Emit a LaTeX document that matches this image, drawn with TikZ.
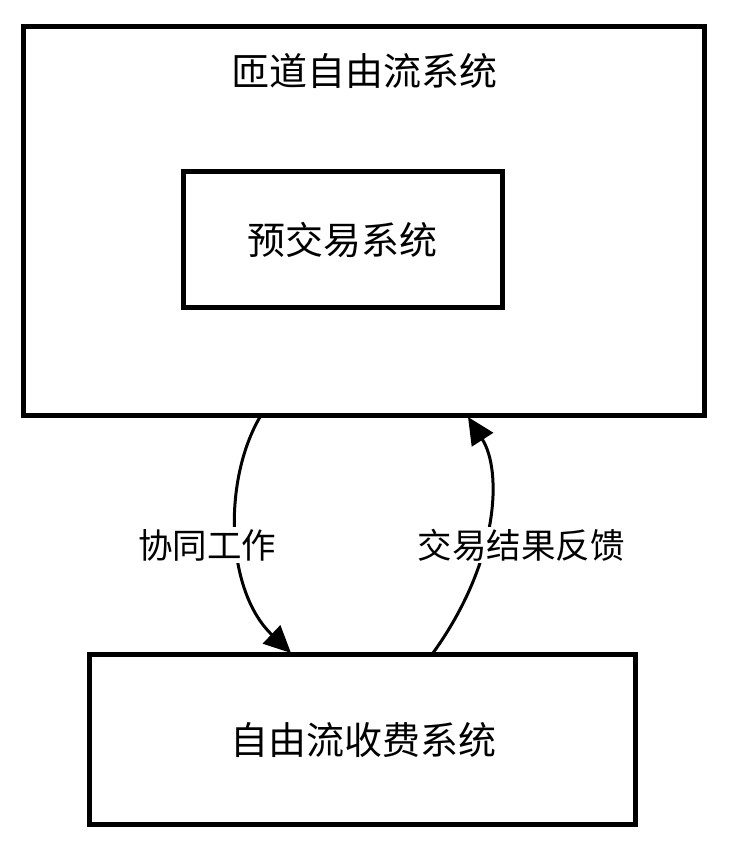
\documentclass[tikz,border=0pt]{standalone}
\usepackage{fontspec}
\setmainfont{Noto Sans CJK SC}
\usetikzlibrary{arrows.meta}
\begin{document}
\begin{tikzpicture}[x=1pt,y=-1pt,
  box/.style={draw=black,line width=5pt,minimum width=#1,inner sep=0pt},
  big/.style={font=\fontsize{38}{44}\selectfont},
  lab/.style={font=\fontsize{34.5}{40}\selectfont,fill=white,inner sep=2pt},
  conn/.style={line width=3pt,-{Triangle[length=27pt,width=25pt]}}]
\useasboundingbox (0,0) rectangle (736,856);
\node[box=681pt,minimum height=388pt] (outer) at (363.5,221) {};
\node[big] (otitle) at (364,71) {匝道自由流系统};
\node[box=319pt,minimum height=136pt] (inner) at (342.5,239) {};
\node[big] (itext) at (342.5,240) {预交易系统};
\node[box=546pt,minimum height=170pt] (bottom) at (362,739) {};
\node[big] (btext) at (363,740) {自由流收费系统};
\coordinate (s1) at (260,417);
\coordinate (e1) at (291,653);
\coordinate (s2) at (433,653);
\coordinate (e2) at (468,417);
\draw[conn] (s1) .. controls (223,480) and (225,590) .. (e1);
\draw[conn] (s2) .. controls (500,560) and (502,470) .. (e2);
\node[lab] (l1) at (207,545) {协同工作};
\node[lab] (l2) at (521,545) {交易结果反馈};
\end{tikzpicture}
\end{document}
